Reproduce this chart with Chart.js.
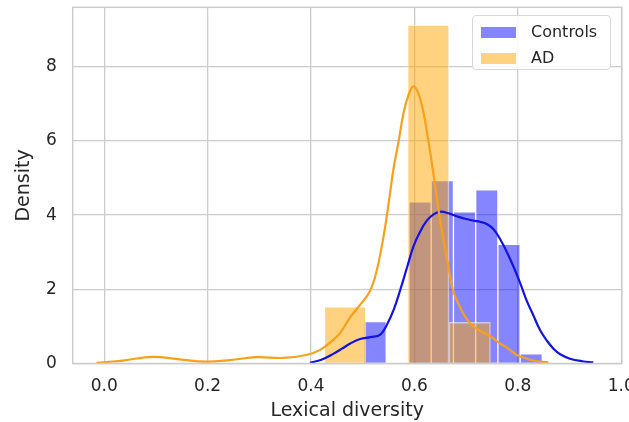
<!DOCTYPE html>
<html>
<head>
<meta charset="utf-8">
<script src="https://cdn.jsdelivr.net/npm/chart.js@4.4.1/dist/chart.umd.min.js"></script>
<style>
  html, body { margin: 0; padding: 0; overflow: hidden; background: #fff; }
  #wrap { position: relative; width: 629px; height: 422px; overflow: hidden; }
  #canvas { position: absolute; left: 0; top: 0; }
  #legend {
    position: absolute; left: 472px; top: 15px; width: 139px; height: 55px;
    box-sizing: border-box; border: 1px solid #d9d9d9; border-radius: 4px;
    background: rgba(255, 255, 255, 0.85);
    font-family: "DejaVu Sans", sans-serif; font-size: 16px; color: #262626;
  }
  .row { position: absolute; left: 0; height: 26px; line-height: 26px; white-space: nowrap; }
  .swatch { position: absolute; left: 8px; top: 8px; width: 35px; height: 11px; }
  .txt { position: absolute; left: 58px; top: 0; }
</style>
</head>
<body>
<div id="wrap">
  <canvas id="canvas" width="645" height="422"></canvas>
  <div id="legend"></div>
</div>
<script>
  // histogram bins: bin centre and density
  var controlsBins = [0.524, 0.567, 0.611, 0.654, 0.697, 0.740, 0.783, 0.826];
  var controlsDensity = [1.13, 0, 4.36, 4.93, 4.09, 4.68, 3.21, 0.26];
  var adBins = [0.466, 0.546, 0.627, 0.707];
  var adDensity = [1.53, 0, 9.12, 1.11];

  // kde curves
  var controlsKdeX = [0.398, 0.42, 0.443, 0.46, 0.476, 0.495, 0.515, 0.534, 0.547, 0.56, 0.573, 0.586,
                      0.598, 0.611, 0.624, 0.637, 0.65, 0.666, 0.682, 0.698, 0.714, 0.727, 0.74, 0.753,
                      0.766, 0.779, 0.792, 0.805, 0.817, 0.83, 0.843, 0.856, 0.869, 0.882, 0.901, 0.925, 0.946];
  var controlsKdeY = [0.02, 0.1, 0.26, 0.4, 0.54, 0.66, 0.71, 0.78, 1.05, 1.45, 2.0, 2.6,
                      3.15, 3.55, 3.85, 4.02, 4.09, 4.05, 3.97, 3.9, 3.85, 3.82, 3.76, 3.62,
                      3.35, 3.0, 2.6, 2.15, 1.7, 1.3, 0.9, 0.62, 0.4, 0.25, 0.13, 0.06, 0.03];
  var adKdeX = [-0.015, 0.036, 0.094, 0.146, 0.197, 0.243, 0.294, 0.346, 0.391, 0.417, 0.44, 0.456,
                0.476, 0.496, 0.514, 0.527, 0.54, 0.55, 0.559, 0.569, 0.579, 0.589, 0.598, 0.607,
                0.617, 0.627, 0.637, 0.646, 0.656, 0.666, 0.675, 0.689, 0.701, 0.714, 0.73, 0.746,
                0.766, 0.779, 0.798, 0.811, 0.83, 0.859];
  var adKdeY = [0.02, 0.08, 0.18, 0.11, 0.05, 0.09, 0.17, 0.15, 0.23, 0.36, 0.6, 0.82,
                1.25, 1.6, 1.95, 2.5, 3.4, 4.3, 5.2, 5.95, 6.75, 7.25, 7.47, 7.3,
                6.8, 6.0, 5.1, 4.2, 3.35, 2.6, 1.95, 1.5, 1.2, 1.0, 0.86, 0.74,
                0.54, 0.43, 0.23, 0.16, 0.08, 0.03];

  var xTicks = [0.0, 0.2, 0.4, 0.6, 0.8, 1.0];
  var yTicks = [0, 2, 4, 6, 8];

  var controlsFill = 'rgba(0, 0, 255, 0.48)';
  var adFill = 'rgba(255, 165, 0, 0.5)';
  var gridColor = '#cccccc';
  var textColor = '#262626';

  function pairs(xs, ys) {
    var out = [];
    for (var i = 0; i < xs.length; i++) out.push({ x: xs[i], y: ys[i] });
    return out;
  }

  // light grey box round the plot area
  var framePlugin = {
    id: 'frame',
    afterDatasetsDraw: function(chart) {
      var a = chart.chartArea, c = chart.ctx;
      c.save();
      c.strokeStyle = gridColor;
      c.lineWidth = 1.5;
      c.strokeRect(a.left, a.top, a.right - a.left, a.bottom - a.top);
      c.restore();
    }
  };

  var tickFont = { family: 'DejaVu Sans', size: 17 };
  var titleFont = { family: 'DejaVu Sans', size: 19 };

  var ctx = document.getElementById('canvas').getContext('2d');
  var chart = new Chart(ctx, {
    type: 'line',
    data: {
      datasets: [
        {
          type: 'line', label: 'AD kde', data: pairs(adKdeX, adKdeY), xAxisID: 'x',
          borderColor: '#f9a01b', borderWidth: 2.2, pointRadius: 0, fill: false,
          tension: 0.4, order: 0
        },
        {
          type: 'line', label: 'Controls kde', data: pairs(controlsKdeX, controlsKdeY), xAxisID: 'x',
          borderColor: '#1212e6', borderWidth: 2.2, pointRadius: 0, fill: false,
          tension: 0.4, order: 1
        },
        {
          type: 'bar', label: 'AD', data: pairs(adBins, adDensity), xAxisID: 'xAD',
          backgroundColor: adFill, borderColor: 'rgba(255,255,255,0.55)', borderWidth: 1,
          barPercentage: 1, categoryPercentage: 1, grouped: false, order: 2
        },
        {
          type: 'bar', label: 'Controls', data: pairs(controlsBins, controlsDensity), xAxisID: 'x',
          backgroundColor: controlsFill, borderColor: 'rgba(255,255,255,0.55)', borderWidth: 1,
          barPercentage: 1, categoryPercentage: 1, grouped: false, order: 3
        }
      ]
    },
    options: {
      responsive: false,
      animation: false,
      layout: { padding: { top: 7.3, right: 23.3, bottom: 0, left: 0 } },
      plugins: { legend: { display: false }, tooltip: { enabled: false } },
      scales: {
        x: {
          type: 'linear', position: 'bottom', min: -0.061, max: 1.001, offset: false,
          grid: { offset: false, color: gridColor, lineWidth: 1.3, drawTicks: false },
          border: { display: false },
          ticks: {
            font: tickFont, color: textColor, padding: 13, maxRotation: 0, autoSkip: false,
            callback: function(v) { return Number(v).toFixed(1); }
          },
          title: { display: true, text: 'Lexical diversity', font: titleFont, color: textColor,
                   padding: { top: 0, bottom: 0 } },
          afterBuildTicks: function(s) { s.ticks = xTicks.map(function(v) { return { value: v }; }); },
          afterFit: function(s) { s.height = 58.5; s.paddingLeft = 0; s.paddingRight = 0; }
        },
        xAD: {
          type: 'linear', display: false, min: -0.061, max: 1.001, offset: false,
          grid: { offset: false }
        },
        y: {
          type: 'linear', position: 'left', min: 0, max: 9.6,
          grid: { color: gridColor, lineWidth: 1.3, drawTicks: false },
          border: { display: false },
          ticks: { font: tickFont, color: textColor, padding: 16, autoSkip: false },
          title: { display: true, text: 'Density', font: titleFont, color: textColor,
                   padding: { top: 13, bottom: 0 } },
          afterBuildTicks: function(s) { s.ticks = yTicks.map(function(v) { return { value: v }; }); },
          afterFit: function(s) { s.width = 72.7; s.paddingTop = 0; s.paddingBottom = 0; }
        }
      }
    },
    plugins: [framePlugin]
  });

  // legend for the two histograms, Controls first
  var legendBox = document.getElementById('legend');
  var legendSets = [chart.data.datasets[3], chart.data.datasets[2]];
  legendSets.forEach(function(ds, i) {
    var row = document.createElement('div');
    row.className = 'row';
    row.style.top = (3 + i * 26) + 'px';
    var sw = document.createElement('span');
    sw.className = 'swatch';
    sw.style.background = ds.backgroundColor;
    var t = document.createElement('span');
    t.className = 'txt';
    t.textContent = ds.label;
    row.appendChild(sw);
    row.appendChild(t);
    legendBox.appendChild(row);
  });
</script>
</body>
</html>
